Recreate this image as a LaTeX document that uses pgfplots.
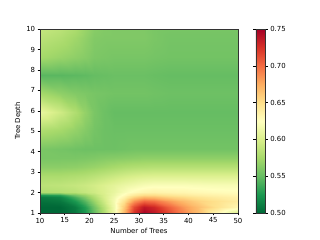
\documentclass[border=0pt]{standalone}
\usepackage{fontspec}
\setmainfont{DejaVu Sans}
\usepackage{pgfplots}
\pgfplotsset{compat=1.18}
\begin{document}
\begin{tikzpicture}
\path[use as bounding box] (-57.6pt,-38.9pt) rectangle (403.2pt,306.7pt);
\begin{axis}[
  at={(0,0)}, anchor=south west,
  scale only axis, width=285.1pt, height=264.9pt,
  view={0}{90},
  xmin=10, xmax=50, ymin=1, ymax=10,
  xtick={10,15,...,50}, ytick={1,2,...,10},
  tick align=outside, tick pos=left,
  major tick length=3.5pt,
  every tick/.style={black, line width=0.8pt},
  axis line style={line width=0.8pt, black!80},
  /pgf/number format/assume math mode=true,
  ticklabel style={font=\fontsize{10}{12}\selectfont},
  label style={font=\fontsize{10}{12}\selectfont},
  xlabel={Number of Trees}, ylabel={Tree Depth},
  colormap={rdylgnr}{rgb255=(0,104,55) rgb255=(26,152,80) rgb255=(102,189,99) rgb255=(166,217,106) rgb255=(217,239,139) rgb255=(255,255,191) rgb255=(254,224,139) rgb255=(253,174,97) rgb255=(244,109,67) rgb255=(215,48,39) rgb255=(165,0,38)},
  point meta min=0.5, point meta max=0.75,
  colorbar,
  colorbar style={
    at={(parent axis.north east)}, anchor=north west, xshift=17.3pt,
    width=13.7pt,
    ytick={0.5,0.55,0.6,0.65,0.7,0.75},
    yticklabel style={font=\fontsize{10}{12}\selectfont, /pgf/number format/.cd, fixed, fixed zerofill, precision=2, assume math mode=true},
    tick align=outside, major tick length=3.5pt,
    every tick/.style={black, line width=0.8pt},
    axis line style={line width=0.8pt, black!80},
  },
]
\addplot3[surf, shader=interp, mesh/cols=16] coordinates {
(10,1.0,0.500) (14,1.0,0.500) (17,1.0,0.508) (19,1.0,0.525) (21,1.0,0.550) (23,1.0,0.580) (25,1.0,0.615) (27,1.0,0.670) (29,1.0,0.725) (31,1.0,0.748) (33,1.0,0.738) (36,1.0,0.715) (39,1.0,0.690) (42,1.0,0.668) (46,1.0,0.630) (50,1.0,0.600)
(10,1.3,0.500) (14,1.3,0.500) (17,1.3,0.510) (19,1.3,0.528) (21,1.3,0.555) (23,1.3,0.585) (25,1.3,0.615) (27,1.3,0.662) (29,1.3,0.715) (31,1.3,0.738) (33,1.3,0.730) (36,1.3,0.705) (39,1.3,0.683) (42,1.3,0.667) (46,1.3,0.647) (50,1.3,0.632)
(10,1.6,0.505) (14,1.6,0.508) (17,1.6,0.525) (19,1.6,0.545) (21,1.6,0.570) (23,1.6,0.595) (25,1.6,0.618) (27,1.6,0.648) (29,1.6,0.685) (31,1.6,0.702) (33,1.6,0.698) (36,1.6,0.682) (39,1.6,0.668) (42,1.6,0.657) (46,1.6,0.648) (50,1.6,0.640)
(10,1.8,0.510) (14,1.8,0.515) (17,1.8,0.540) (19,1.8,0.560) (21,1.8,0.580) (23,1.8,0.600) (25,1.8,0.616) (27,1.8,0.635) (29,1.8,0.658) (31,1.8,0.670) (33,1.8,0.668) (36,1.8,0.658) (39,1.8,0.652) (42,1.8,0.646) (46,1.8,0.640) (50,1.8,0.636)
(10,1.9,0.525) (14,1.9,0.530) (17,1.9,0.555) (19,1.9,0.570) (21,1.9,0.585) (23,1.9,0.600) (25,1.9,0.613) (27,1.9,0.628) (29,1.9,0.643) (31,1.9,0.652) (33,1.9,0.652) (36,1.9,0.646) (39,1.9,0.642) (42,1.9,0.638) (46,1.9,0.635) (50,1.9,0.632)
(10,2.05,0.580) (14,2.05,0.582) (17,2.05,0.585) (19,2.05,0.590) (21,2.05,0.595) (23,2.05,0.602) (25,2.05,0.610) (27,2.05,0.620) (29,2.05,0.628) (31,2.05,0.633) (33,2.05,0.635) (36,2.05,0.633) (39,2.05,0.632) (42,2.05,0.630) (46,2.05,0.628) (50,2.05,0.627)
(10,2.35,0.585) (14,2.35,0.587) (17,2.35,0.590) (19,2.35,0.593) (21,2.35,0.597) (23,2.35,0.602) (25,2.35,0.607) (27,2.35,0.612) (29,2.35,0.616) (31,2.35,0.620) (33,2.35,0.622) (36,2.35,0.622) (39,2.35,0.622) (42,2.35,0.621) (46,2.35,0.620) (50,2.35,0.620)
(10,2.8,0.578) (14,2.8,0.578) (17,2.8,0.580) (19,2.8,0.582) (21,2.8,0.585) (23,2.8,0.589) (25,2.8,0.593) (27,2.8,0.597) (29,2.8,0.600) (31,2.8,0.602) (33,2.8,0.603) (36,2.8,0.603) (39,2.8,0.603) (42,2.8,0.603) (46,2.8,0.603) (50,2.8,0.603)
(10,3.25,0.565) (14,3.25,0.565) (17,3.25,0.566) (19,3.25,0.568) (21,3.25,0.570) (23,3.25,0.573) (25,3.25,0.576) (27,3.25,0.579) (29,3.25,0.581) (31,3.25,0.582) (33,3.25,0.583) (36,3.25,0.583) (39,3.25,0.583) (42,3.25,0.583) (46,3.25,0.583) (50,3.25,0.583)
(10,3.7,0.558) (14,3.7,0.558) (17,3.7,0.558) (19,3.7,0.559) (21,3.7,0.560) (23,3.7,0.562) (25,3.7,0.563) (27,3.7,0.564) (29,3.7,0.565) (31,3.7,0.566) (33,3.7,0.566) (36,3.7,0.566) (39,3.7,0.566) (42,3.7,0.566) (46,3.7,0.566) (50,3.7,0.566)
(10,4.15,0.558) (14,4.15,0.556) (17,4.15,0.554) (19,4.15,0.553) (21,4.15,0.553) (23,4.15,0.553) (25,4.15,0.553) (27,4.15,0.554) (29,4.15,0.555) (31,4.15,0.555) (33,4.15,0.555) (36,4.15,0.555) (39,4.15,0.555) (42,4.15,0.555) (46,4.15,0.555) (50,4.15,0.555)
(10,5.05,0.580) (14,5.05,0.575) (17,5.05,0.568) (19,5.05,0.562) (21,5.05,0.556) (23,5.05,0.553) (25,5.05,0.552) (27,5.05,0.552) (29,5.05,0.552) (31,5.05,0.552) (33,5.05,0.552) (36,5.05,0.552) (39,5.05,0.552) (42,5.05,0.552) (46,5.05,0.552) (50,5.05,0.552)
(10,5.95,0.610) (14,5.95,0.595) (17,5.95,0.580) (19,5.95,0.568) (21,5.95,0.558) (23,5.95,0.553) (25,5.95,0.550) (27,5.95,0.550) (29,5.95,0.550) (31,5.95,0.550) (33,5.95,0.550) (36,5.95,0.550) (39,5.95,0.550) (42,5.95,0.550) (46,5.95,0.550) (50,5.95,0.550)
(10,6.85,0.575) (14,6.85,0.566) (17,6.85,0.561) (19,6.85,0.559) (21,6.85,0.557) (23,6.85,0.556) (25,6.85,0.555) (27,6.85,0.555) (29,6.85,0.555) (31,6.85,0.555) (33,6.85,0.554) (36,6.85,0.553) (39,6.85,0.553) (42,6.85,0.553) (46,6.85,0.553) (50,6.85,0.553)
(10,7.75,0.546) (14,7.75,0.546) (17,7.75,0.547) (19,7.75,0.548) (21,7.75,0.550) (23,7.75,0.551) (25,7.75,0.552) (27,7.75,0.552) (29,7.75,0.552) (31,7.75,0.552) (33,7.75,0.551) (36,7.75,0.550) (39,7.75,0.550) (42,7.75,0.550) (46,7.75,0.550) (50,7.75,0.550)
(10,8.65,0.575) (14,8.65,0.570) (17,8.65,0.566) (19,8.65,0.563) (21,8.65,0.559) (23,8.65,0.558) (25,8.65,0.557) (27,8.65,0.557) (29,8.65,0.557) (31,8.65,0.557) (33,8.65,0.556) (36,8.65,0.555) (39,8.65,0.555) (42,8.65,0.555) (46,8.65,0.555) (50,8.65,0.555)
(10,9.55,0.585) (14,9.55,0.580) (17,9.55,0.573) (19,9.55,0.567) (21,9.55,0.561) (23,9.55,0.560) (25,9.55,0.560) (27,9.55,0.560) (29,9.55,0.560) (31,9.55,0.560) (33,9.55,0.558) (36,9.55,0.556) (39,9.55,0.556) (42,9.55,0.556) (46,9.55,0.556) (50,9.55,0.556)
(10,10,0.590) (14,10,0.585) (17,10,0.578) (19,10,0.570) (21,10,0.563) (23,10,0.561) (25,10,0.560) (27,10,0.560) (29,10,0.560) (31,10,0.560) (33,10,0.558) (36,10,0.557) (39,10,0.557) (42,10,0.557) (46,10,0.557) (50,10,0.557)
};
\end{axis}
\end{tikzpicture}
\end{document}
